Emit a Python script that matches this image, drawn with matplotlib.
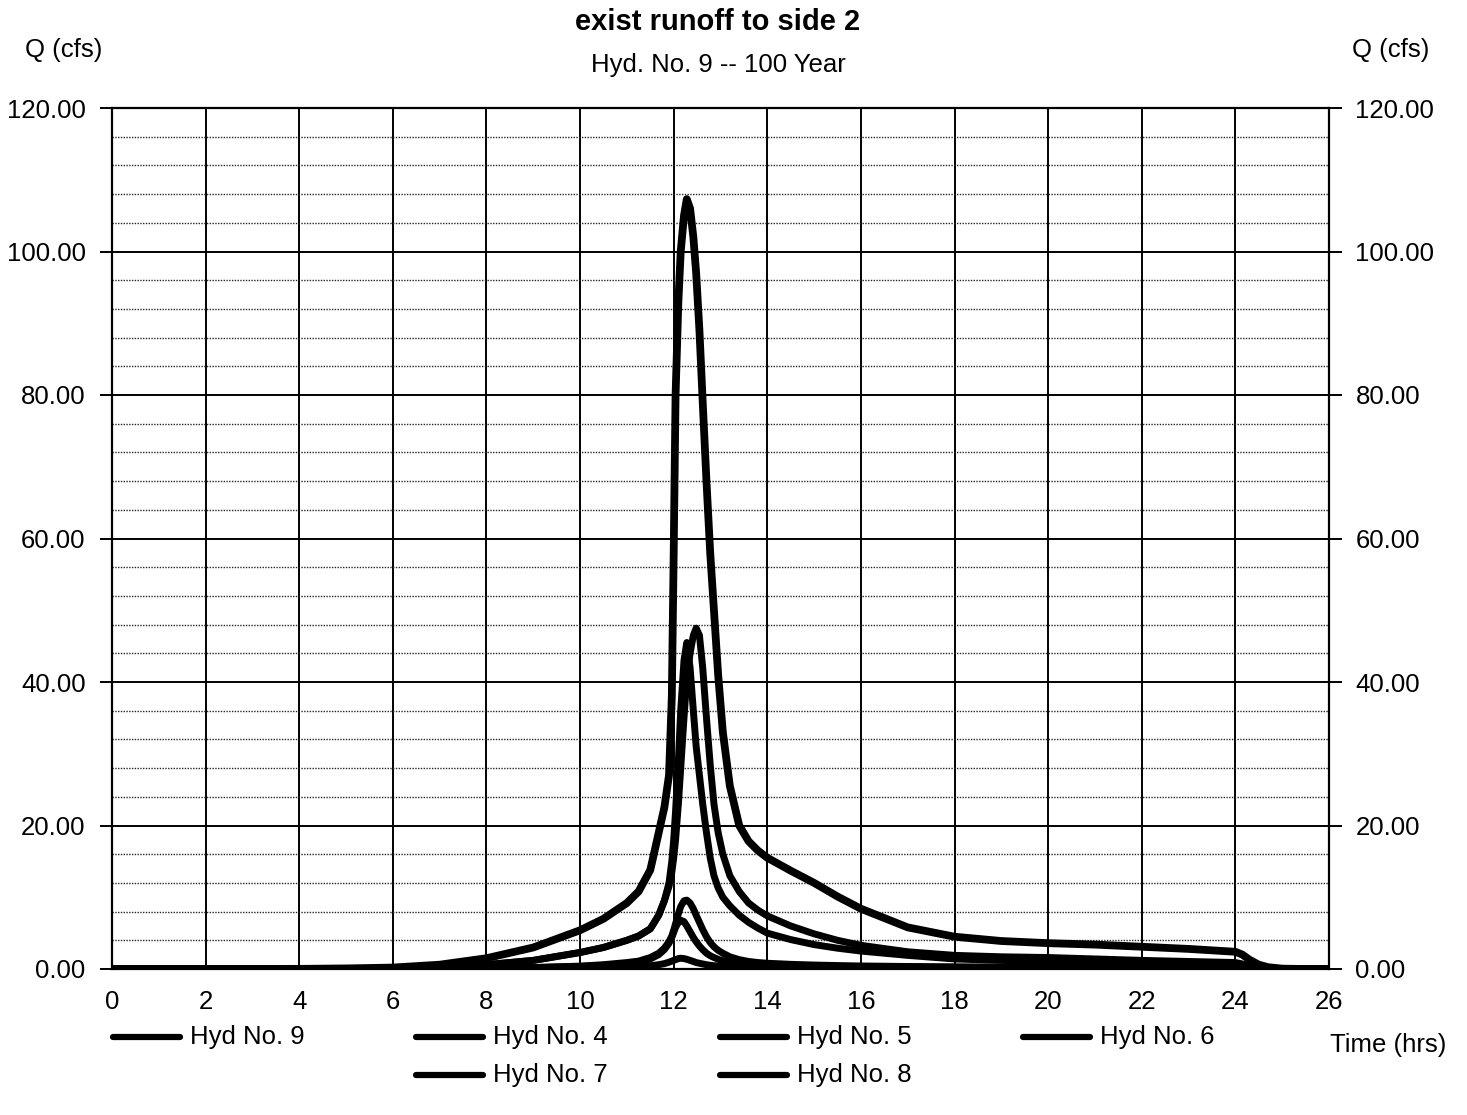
import matplotlib
matplotlib.use("Agg")
import matplotlib.pyplot as plt
from matplotlib.lines import Line2D
from matplotlib.ticker import MultipleLocator, FormatStrFormatter

plt.rcParams['font.family'] = ['Liberation Sans', 'DejaVu Sans']

title = "exist runoff to side 2"
subtitle = "Hyd. No. 9 -- 100 Year"

time_hrs = [0, 2, 4, 5, 6, 7, 8, 9, 10, 10.5,
            11, 11.25, 11.5, 11.68, 11.8, 11.9, 11.96, 12.0, 12.04, 12.1,
            12.15, 12.22, 12.28, 12.35, 12.42, 12.48, 12.55, 12.62, 12.7, 12.78,
            12.86, 12.95, 13.05, 13.2, 13.4, 13.6, 13.8, 14, 14.5, 15,
            15.5, 16, 17, 18, 19, 20, 21, 22, 23, 24,
            24.15, 24.3, 24.5, 24.7, 25, 25.5, 26]

hyd9 = [0, 0, 0.02, 0.08, 0.2, 0.6, 1.5, 3.0, 5.4, 7.0,
        9.2, 10.8, 13.8, 19, 22.5, 27, 38, 58, 80, 93,
        100, 105, 107.3, 106, 102, 97, 89, 79, 68, 58,
        50, 41, 33, 25.5, 20, 17.8, 16.5, 15.5, 13.7, 12.0,
        10.1, 8.4, 5.8, 4.5, 3.9, 3.6, 3.4, 3.1, 2.8, 2.4,
        2.0, 1.3, 0.6, 0.25, 0.05, 0, 0]
hyd4 = [0, 0, 0, 0.02, 0.05, 0.2, 0.6, 1.2, 2.3, 3.0,
        4.0, 4.6, 5.6, 7.5, 9.5, 11.5, 13.5, 15.5, 18, 23,
        28, 35, 40.5, 44, 46.5, 47.5, 46.5, 42, 35, 28.5,
        23, 19, 16, 13, 10.8, 9.2, 8.2, 7.4, 6.0, 4.9,
        4.0, 3.3, 2.4, 1.9, 1.7, 1.6, 1.4, 1.2, 1.05, 0.9,
        0.7, 0.4, 0.15, 0.05, 0, 0, 0]
hyd5 = [0, 0, 0, 0, 0.02, 0.05, 0.1, 0.2, 0.4, 0.6,
        0.9, 1.1, 1.6, 2.2, 2.9, 3.8, 4.6, 5.4, 6.3, 7.7,
        8.7, 9.5, 9.6, 9.2, 8.4, 7.5, 6.5, 5.5, 4.5, 3.7,
        3.1, 2.6, 2.2, 1.7, 1.3, 1.05, 0.9, 0.8, 0.65, 0.55,
        0.48, 0.42, 0.35, 0.3, 0.28, 0.25, 0.23, 0.2, 0.18, 0.15,
        0.1, 0.05, 0.02, 0, 0, 0, 0]
hyd6 = [0, 0, 0, 0.02, 0.05, 0.2, 0.6, 1.2, 2.3, 3.0,
        4.0, 4.6, 5.6, 7.5, 9.5, 12, 15, 18, 22, 29,
        36, 43, 45.5, 42, 36, 31, 27, 23, 19, 15.5,
        13, 11.3, 10, 8.8, 7.5, 6.5, 5.7, 5.0, 4.1, 3.4,
        2.9, 2.5, 1.9, 1.4, 1.2, 1.0, 0.9, 0.8, 0.7, 0.6,
        0.45, 0.25, 0.1, 0.03, 0, 0, 0]
hyd7 = [0, 0, 0, 0, 0.02, 0.05, 0.1, 0.2, 0.35, 0.5,
        0.75, 0.95, 1.4, 2.0, 2.7, 3.6, 4.4, 5.1, 5.8, 6.5,
        6.8, 6.6, 6.0, 5.2, 4.4, 3.8, 3.2, 2.7, 2.2, 1.85,
        1.6, 1.35, 1.15, 0.95, 0.8, 0.7, 0.62, 0.55, 0.45, 0.4,
        0.35, 0.32, 0.27, 0.23, 0.2, 0.18, 0.16, 0.15, 0.13, 0.12,
        0.08, 0.04, 0.01, 0, 0, 0, 0]
hyd8 = [0, 0, 0, 0, 0.01, 0.02, 0.05, 0.1, 0.15, 0.2,
        0.3, 0.35, 0.45, 0.6, 0.75, 0.95, 1.1, 1.2, 1.3, 1.45,
        1.5, 1.45, 1.35, 1.2, 1.05, 0.9, 0.8, 0.7, 0.6, 0.52,
        0.46, 0.4, 0.36, 0.3, 0.26, 0.23, 0.21, 0.2, 0.17, 0.15,
        0.14, 0.12, 0.1, 0.09, 0.08, 0.08, 0.07, 0.07, 0.06, 0.06,
        0.04, 0.02, 0, 0, 0, 0, 0]

series = [("Hyd No. 9", hyd9), ("Hyd No. 4", hyd4), ("Hyd No. 5", hyd5),
          ("Hyd No. 6", hyd6), ("Hyd No. 7", hyd7), ("Hyd No. 8", hyd8)]
for _, v in series:
    assert len(v) == len(time_hrs)

lws = {"Hyd No. 9": 5.6}
base_lw = 5.0

W, H = 1467, 1115
fig = plt.figure(figsize=(W / 100, H / 100), dpi=100)
ax = fig.add_axes([112 / W, 1 - 969 / H, (1329 - 112) / W, (969 - 108) / H])

ax.set_xlim(0, 26)
ax.set_ylim(0, 120)
ax.xaxis.set_major_locator(MultipleLocator(2))
ax.yaxis.set_major_locator(MultipleLocator(20))
ax.yaxis.set_minor_locator(MultipleLocator(4))
ax.yaxis.set_major_formatter(FormatStrFormatter('%.2f'))

ax.grid(which='major', axis='both', color='black', linewidth=1.4, linestyle='-')
ax.grid(which='minor', axis='y', color='0.15', linewidth=1.0, linestyle=(0, (1, 1)))
ax.set_axisbelow(True)

for s in ax.spines.values():
    s.set_linewidth(1.6)
    s.set_color('black')

ax.tick_params(axis='y', which='major', direction='out', length=9, width=1.4,
               left=True, right=True, labelleft=True, labelright=True,
               labelsize=18.5, pad=10)
ax.tick_params(axis='y', which='minor', length=0)
ax.tick_params(axis='x', which='major', length=0, labelsize=18.5, pad=15)

for name, vals in series:
    ax.plot(time_hrs, vals, color='black', linewidth=lws.get(name, base_lw),
            solid_capstyle='round', solid_joinstyle='round', zorder=3)

fig.text(718 / W, 1 - 22 / H, title, ha='center', va='center', fontsize=21, fontweight='bold')
fig.text(718 / W, 1 - 65 / H, subtitle, ha='center', va='center', fontsize=18.5)
fig.text(25 / W, 1 - 50 / H, "Q (cfs)", ha='left', va='center', fontsize=18.5)
fig.text(1352 / W, 1 - 50 / H, "Q (cfs)", ha='left', va='center', fontsize=18.5)
fig.text(1330 / W, 1 - 1045 / H, "Time (hrs)", ha='left', va='center', fontsize=18.5)

# legend (manual layout: row 1 = 9, 4, 5, 6; row 2 = 7, 8)
legend_pos = {"Hyd No. 9": (113, 1037), "Hyd No. 4": (416, 1037), "Hyd No. 5": (720, 1037),
              "Hyd No. 6": (1023, 1037), "Hyd No. 7": (416, 1075), "Hyd No. 8": (720, 1075)}
for name, vals in series:
    x0, y0 = legend_pos[name]
    yy = 1 - y0 / H
    fig.add_artist(Line2D([x0 / W, (x0 + 67) / W], [yy, yy], color='black',
                          linewidth=4.5, solid_capstyle='round',
                          transform=fig.transFigure))
    fig.text((x0 + 77) / W, yy, name, ha='left', va='center', fontsize=18.5)

fig.savefig("out.png", dpi=100)
